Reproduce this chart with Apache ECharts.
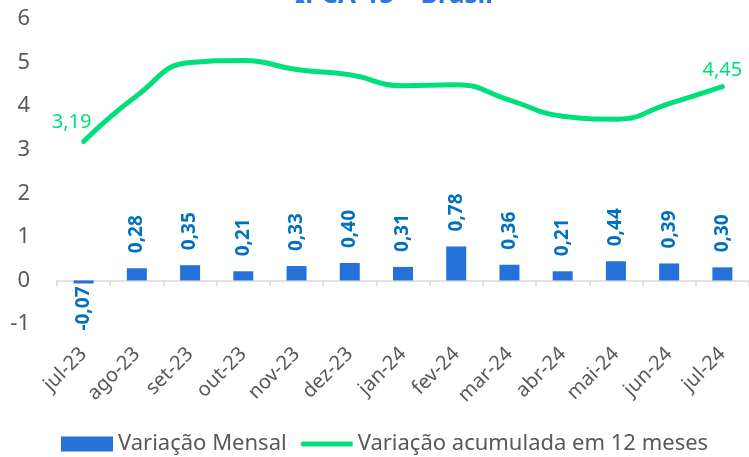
<!DOCTYPE html>
<html>
<head>
<meta charset="utf-8">
<script src="https://cdn.jsdelivr.net/npm/echarts@6/dist/echarts.min.js"></script>
<style>
  html, body { margin: 0; padding: 0; background: #fff; }
  #chart { width: 749px; height: 457px; }
</style>
</head>
<body>
<div id="chart"></div>
<script>
// dados
const months = ['jul-23', 'ago-23', 'set-23', 'out-23', 'nov-23', 'dez-23', 'jan-24',
  'fev-24', 'mar-24', 'abr-24', 'mai-24', 'jun-24', 'jul-24']
const monthly = [-0.07, 0.28, 0.35, 0.21, 0.33, 0.40, 0.31, 0.78, 0.36, 0.21, 0.44, 0.39, 0.30]
const accum12 = [3.19, 4.24, 5.00, 5.05, 4.84, 4.72, 4.47, 4.49, 4.14, 3.77, 3.70, 4.06, 4.45]

const FONT = '"Noto Sans", "Open Sans", sans-serif'
const GREY = '#595959'
const BLUE = '#2471d7'
const GREEN = '#00e07a'

const fmt = v => Number(v).toFixed(2).replace('.', ',')

const chart = echarts.init(document.getElementById('chart'))

// barra negativa: rótulo abaixo
const barData = monthly.map(v => {
  if (v < 0) {
    return { value: v, label: { position: 'bottom', align: 'right', distance: 3 } }
  }
  return v
})

// só primeiro e último ponto com rótulo
const lastIdx = accum12.length - 1
const lineData = accum12.map((v, i) => {
  if (i === 0) {
    return { value: v, label: { show: true, offset: [-12, -3] } }
  }
  if (i === lastIdx) {
    return { value: v, label: { show: true } }
  }
  return v
})

const option = {
  animation: false,
  textStyle: { fontFamily: FONT },
  title: {
    text: 'IPCA-15 – Brasil',
    left: 290,
    top: -22,
    textStyle: { fontFamily: FONT, fontSize: 26, fontWeight: 'bold', color: '#2f77e0' }
  },
  legend: {
    left: 61,
    top: 433,
    padding: 0,
    itemWidth: 52,
    itemHeight: 15,
    itemGap: 14,
    textStyle: { fontFamily: FONT, fontSize: 22, color: GREY },
    data: [
      { name: 'Variação Mensal', icon: 'rect' },
      { name: 'Variação acumulada em 12 meses', icon: 'path://M0,0h0.01v15h-0.01z M2.5,5h51v5h-51a2.5,2.5,0,0,1,0,-5z' }
    ]
  },
  grid: { left: 57, top: 19, width: 693, height: 305 },
  xAxis: [
    {
      type: 'category',
      data: months,
      axisLine: { onZero: true, lineStyle: { color: '#d9d9d9', width: 1.5 } },
      axisTick: { show: true, length: 6, lineStyle: { color: '#d9d9d9', width: 1.5 } },
      axisLabel: { show: false }
    },
    {
      type: 'category',
      data: months,
      position: 'bottom',
      axisLine: { show: false, onZero: false },
      axisTick: { show: false },
      axisLabel: {
        rotate: 45,
        margin: 27,
        fontFamily: FONT,
        fontSize: 20,
        color: GREY
      }
    }
  ],
  yAxis: {
    type: 'value',
    min: -1,
    max: 6,
    interval: 1,
    splitLine: { show: false },
    axisLine: { show: false },
    axisTick: { show: false },
    axisLabel: { margin: 27, fontFamily: FONT, fontSize: 22, color: GREY }
  },
  series: [
    {
      name: 'Variação Mensal',
      type: 'bar',
      xAxisIndex: 0,
      barWidth: 20,
      itemStyle: { color: BLUE },
      label: {
        show: true,
        position: 'top',
        rotate: 90,
        align: 'left',
        verticalAlign: 'middle',
        distance: 15,
        fontFamily: FONT,
        fontSize: 19,
        fontWeight: 'bold',
        color: '#0070c0',
        formatter: p => fmt(p.value)
      },
      data: barData
    },
    {
      name: 'Variação acumulada em 12 meses',
      type: 'line',
      xAxisIndex: 0,
      smooth: 0.5,
      symbol: 'circle',
      symbolSize: 1,
      showSymbol: true,
      lineStyle: { color: GREEN, width: 5, cap: 'round' },
      itemStyle: { color: GREEN },
      label: {
        show: false,
        position: 'top',
        distance: 6,
        fontFamily: FONT,
        fontSize: 20,
        color: GREEN,
        formatter: p => fmt(p.value)
      },
      data: lineData
    }
  ]
}

chart.setOption(option)
</script>
</body>
</html>
